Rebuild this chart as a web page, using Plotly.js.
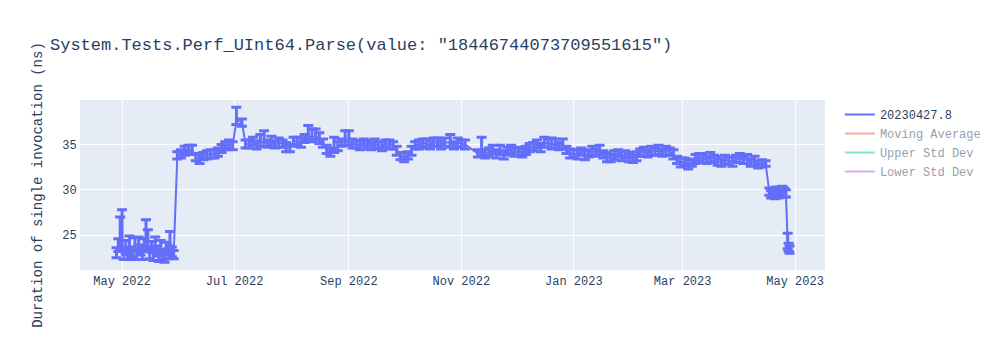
<!DOCTYPE html>
<html>
<head>
<meta charset="utf-8">
<script src="https://cdn.plot.ly/plotly-3.0.1.min.js"></script>
<style>html,body{margin:0;padding:0;background:#fff;}#chart{width:1000px;height:350px;}</style>
</head>
<body>
<div id="chart"></div>
<script>
const seriesName = "20230427.8";
const chartTitle = 'System.Tests.Perf_UInt64.Parse(value: "18446744073709551615")';
const yTitle = "Duration of single invocation (ns)";
const extraNames = ["Moving Average", "Upper Std Dev", "Lower Std Dev"];

const dates = [
"2022-04-28","2022-04-29","2022-04-30","2022-05-01","2022-05-02","2022-05-03","2022-05-04","2022-05-05","2022-05-06","2022-05-07",
"2022-05-08","2022-05-09","2022-05-10","2022-05-11","2022-05-12","2022-05-13","2022-05-14","2022-05-15","2022-05-16","2022-05-17",
"2022-05-18","2022-05-19","2022-05-20","2022-05-21","2022-05-22","2022-05-23","2022-05-24","2022-05-25","2022-05-26","2022-05-27",
"2022-05-28","2022-05-29","2022-05-31","2022-06-02","2022-06-04","2022-06-06","2022-06-08","2022-06-10","2022-06-12","2022-06-14",
"2022-06-16","2022-06-18","2022-06-20","2022-06-22","2022-06-24","2022-06-26","2022-06-28","2022-06-30","2022-07-02","2022-07-05",
"2022-07-07","2022-07-09","2022-07-11","2022-07-13","2022-07-15","2022-07-17","2022-07-19","2022-07-21","2022-07-23","2022-07-25",
"2022-07-27","2022-07-29","2022-07-31","2022-08-02","2022-08-04","2022-08-06","2022-08-08","2022-08-10","2022-08-12","2022-08-14",
"2022-08-16","2022-08-18","2022-08-20","2022-08-22","2022-08-24","2022-08-26","2022-08-28","2022-08-30","2022-09-01","2022-09-03",
"2022-09-05","2022-09-07","2022-09-09","2022-09-11","2022-09-13","2022-09-15","2022-09-17","2022-09-19","2022-09-21","2022-09-23",
"2022-09-25","2022-09-27","2022-09-29","2022-10-01","2022-10-03","2022-10-05","2022-10-07","2022-10-09","2022-10-11","2022-10-13",
"2022-10-15","2022-10-17","2022-10-19","2022-10-21","2022-10-23","2022-10-26","2022-10-28","2022-10-30","2022-11-01","2022-11-03",
"2022-11-10","2022-11-12","2022-11-14","2022-11-16","2022-11-18","2022-11-20","2022-11-22","2022-11-24","2022-11-26","2022-11-28",
"2022-11-30","2022-12-02","2022-12-04","2022-12-06","2022-12-08","2022-12-10","2022-12-12","2022-12-14","2022-12-16","2022-12-18",
"2022-12-20","2022-12-22","2022-12-24","2022-12-26","2022-12-28","2022-12-30","2023-01-01","2023-01-03","2023-01-05","2023-01-07",
"2023-01-09","2023-01-11","2023-01-13","2023-01-15","2023-01-17","2023-01-19","2023-01-21","2023-01-23","2023-01-25","2023-01-27",
"2023-01-29","2023-01-31","2023-02-02","2023-02-04","2023-02-06","2023-02-08","2023-02-10","2023-02-12","2023-02-14","2023-02-16",
"2023-02-18","2023-02-20","2023-02-22","2023-02-24","2023-02-26","2023-02-28","2023-03-02","2023-03-04","2023-03-06","2023-03-08",
"2023-03-10","2023-03-12","2023-03-14","2023-03-16","2023-03-18","2023-03-20","2023-03-22","2023-03-24","2023-03-26","2023-03-28",
"2023-03-30","2023-04-01","2023-04-03","2023-04-05","2023-04-07","2023-04-09","2023-04-11","2023-04-13","2023-04-15","2023-04-17",
"2023-04-18","2023-04-19","2023-04-20","2023-04-21","2023-04-22","2023-04-23","2023-04-24","2023-04-25","2023-04-26","2023-04-27",
"2023-04-27 12:00","2023-04-28"
];

const durations = [
23.0,23.8,24.0,24.3,22.8,23.5,22.7,24.2,23.1,22.9,
23.9,22.8,24.1,23.3,22.7,23.8,24.3,24.0,22.9,23.6,
22.6,24.0,23.2,22.5,23.7,22.8,22.4,23.5,22.9,24.4,
23.1,22.8,33.8,33.9,34.3,34.5,34.4,33.6,33.4,33.7,
33.8,34.0,33.9,34.2,34.5,34.9,35.0,34.9,37.6,37.5,
35.0,35.1,35.3,35.0,35.2,35.3,35.1,35.4,35.0,35.2,
35.1,34.7,34.6,35.3,35.4,35.2,35.6,36.0,35.7,36.0,
35.5,35.2,34.4,34.2,34.5,34.8,35.2,35.4,35.3,35.1,
35.0,34.9,35.2,35.0,34.8,35.1,34.9,34.8,35.1,35.0,
34.9,34.3,33.7,33.6,33.8,34.3,34.9,35.0,35.2,35.1,
34.9,35.3,35.2,35.0,35.2,35.2,34.9,35.2,35.1,35.0,
34.0,34.3,33.9,34.2,34.4,34.0,34.3,33.9,34.2,34.5,
34.1,34.3,34.0,34.4,34.6,34.8,35.0,34.7,35.1,35.2,
34.9,35.1,34.8,35.0,34.4,34.0,34.0,33.9,34.2,33.8,
34.0,34.3,34.1,34.4,33.9,33.6,33.5,33.8,34.0,33.7,
33.9,33.6,33.4,33.7,34.1,34.2,34.0,34.3,34.2,34.4,
34.1,34.3,34.2,33.9,33.3,33.0,33.1,32.8,33.0,33.4,
33.6,33.5,33.3,33.6,33.4,33.2,33.0,33.3,33.2,33.1,
33.4,33.5,33.3,33.4,33.0,33.2,32.8,32.9,32.9,29.8,
29.5,29.7,29.4,29.9,29.6,29.8,30.0,29.7,29.6,24.0,
23.6,23.4
];

const errUp = [
0.6,0.8,3.0,3.5,0.6,0.9,0.5,0.7,0.6,0.5,
0.8,0.6,0.7,0.6,0.5,0.8,2.4,1.6,0.6,0.7,
0.5,0.8,0.6,0.5,0.7,0.6,0.5,0.7,0.6,1.0,
0.6,0.5,0.4,0.5,0.5,0.4,0.5,0.4,0.5,0.4,
0.5,0.4,0.5,0.4,0.5,0.4,0.5,0.4,1.5,0.3,
0.5,0.4,0.5,0.4,0.9,1.2,0.4,0.5,0.4,0.5,
0.4,0.5,0.4,0.5,0.4,0.5,0.5,1.1,1.0,0.7,
0.8,0.4,0.5,0.4,1.3,0.5,0.4,1.1,1.2,0.5,
0.4,0.5,0.4,0.5,0.4,0.5,0.4,0.5,0.4,0.5,
0.4,0.5,0.4,0.5,0.4,0.5,0.4,0.5,0.4,0.5,
0.5,0.4,0.5,0.4,0.5,0.9,0.4,0.5,0.4,0.5,
0.4,1.5,0.5,0.4,0.5,0.4,0.6,0.4,0.5,0.4,
0.5,0.4,0.5,0.4,0.5,0.4,0.5,0.4,0.7,0.4,
0.8,0.5,0.4,0.6,0.4,0.5,0.4,0.5,0.4,0.5,
0.4,0.5,0.4,0.5,0.4,0.5,0.4,0.5,0.4,0.5,
0.4,0.5,0.4,0.5,0.4,0.5,0.4,0.5,0.4,0.5,
0.4,0.5,0.4,0.5,0.4,0.5,0.4,0.5,0.4,0.5,
0.4,0.5,0.4,0.5,0.4,0.5,0.4,0.5,0.4,0.5,
0.4,0.5,0.4,0.5,0.4,0.5,0.4,0.4,0.3,0.4,
0.4,0.5,0.4,0.4,0.5,0.4,0.4,0.5,0.4,1.2,
0.5,0.4
];

const errDown = [
0.5,0.6,0.6,0.7,0.5,0.6,0.4,0.6,0.5,0.5,
0.6,0.5,0.6,0.5,0.4,0.6,0.6,0.6,0.5,0.5,
0.4,0.6,0.5,0.4,0.5,0.5,0.4,0.6,0.5,0.6,
0.5,0.4,0.4,0.4,0.5,0.4,0.5,0.4,0.5,0.4,
0.4,0.5,0.4,0.5,0.4,0.5,0.4,0.5,0.4,0.5,
0.4,0.5,0.4,0.5,0.4,0.5,0.4,0.5,0.4,0.5,
0.4,0.5,0.4,0.5,0.4,0.5,0.4,0.5,0.4,0.5,
0.4,0.5,0.4,0.5,0.4,0.5,0.4,0.5,0.4,0.5,
0.4,0.5,0.4,0.5,0.4,0.5,0.4,0.5,0.4,0.5,
0.4,0.5,0.4,0.5,0.4,0.5,0.4,0.5,0.4,0.5,
0.4,0.5,0.4,0.5,0.4,0.5,0.4,0.5,0.4,0.5,
0.4,0.5,0.4,0.5,0.4,0.5,0.4,0.5,0.4,0.5,
0.4,0.5,0.4,0.5,0.4,0.5,0.4,0.5,0.4,0.5,
0.4,0.5,0.4,0.5,0.4,0.5,0.4,0.5,0.4,0.5,
0.4,0.5,0.4,0.5,0.4,0.5,0.4,0.5,0.4,0.5,
0.4,0.5,0.4,0.5,0.4,0.5,0.4,0.5,0.4,0.5,
0.4,0.5,0.4,0.5,0.4,0.5,0.4,0.5,0.4,0.5,
0.4,0.5,0.4,0.5,0.4,0.5,0.4,0.5,0.4,0.5,
0.4,0.5,0.4,0.5,0.4,0.5,0.4,0.4,0.3,0.4,
0.4,0.5,0.4,0.4,0.5,0.4,0.4,0.5,0.4,0.5,
0.4,0.4
];

const palette = ["#636efa", "#EF553B", "#00cc96", "#ab63fa"];

const traces = [{
  type: "scatter", mode: "lines", name: seriesName,
  x: dates, y: durations,
  line: {color: palette[0], width: 2},
  error_y: {type: "data", symmetric: false, array: errUp, arrayminus: errDown, visible: true, color: palette[0], thickness: 3, width: 5}
}];
extraNames.forEach((n, i) => {
  traces.push({type: "scatter", mode: "lines", name: n, x: dates, y: durations,
    visible: "legendonly", line: {color: palette[i + 1], width: 2}});
});

const gridStyle = {gridcolor: "white", linecolor: "white", zerolinecolor: "white", zerolinewidth: 2, ticks: "", automargin: true};

const layout = {
  width: 1000, height: 350,
  font: {family: "Liberation Mono, Courier New, monospace", size: 12, color: "#2a3f5f"},
  title: {text: chartTitle, x: 0.05, font: {size: 17}},
  paper_bgcolor: "white", plot_bgcolor: "#E5ECF6",
  margin: {l: 80, r: 175, t: 100, b: 80},
  xaxis: Object.assign({type: "date", range: ["2022-04-08 05:00", "2023-05-17 05:00"]}, gridStyle),
  yaxis: Object.assign({range: [21.15, 39.9], title: {text: yTitle, font: {size: 14}}}, gridStyle),
  legend: {font: {size: 12}},
  showlegend: true
};

Plotly.newPlot("chart", traces, layout, {displayModeBar: false, responsive: false});
</script>
</body>
</html>
